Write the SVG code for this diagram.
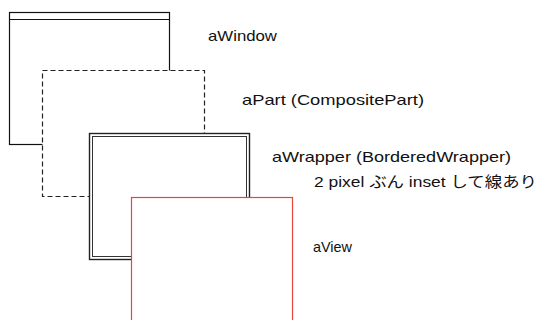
<svg xmlns="http://www.w3.org/2000/svg" width="539" height="320" viewBox="0 0 539 320">
<style>
  .lbl { font-family: "Liberation Sans", "Noto Sans CJK JP", sans-serif; font-size: 15px; fill: #111; }
  .box { fill: #fff; stroke: #111; stroke-width: 1.2; }
</style>
<rect width="539" height="320" fill="#fff"/>
<g id="aWindow">
  <rect class="box" x="9.5" y="12.5" width="160" height="132"/>
  <line x1="9.5" y1="19.5" x2="169.5" y2="19.5" stroke="#111" stroke-width="1.2"/>
  <text class="lbl" x="208" y="41" textLength="69" lengthAdjust="spacingAndGlyphs">aWindow</text>
</g>
<g id="aPart">
  <rect x="42.5" y="70.5" width="162" height="126" fill="#fff" stroke="#222" stroke-width="1.2" stroke-dasharray="5,3"/>
  <text class="lbl" x="242" y="105" textLength="182" lengthAdjust="spacingAndGlyphs">aPart (CompositePart)</text>
</g>
<g id="aWrapper">
  <rect x="89.5" y="133.5" width="160" height="126" fill="#fff" stroke="#222" stroke-width="1.4"/>
  <rect x="92.5" y="136.5" width="154" height="120" fill="#fff" stroke="#333" stroke-width="1"/>
  <text class="lbl" x="272" y="162" textLength="239" lengthAdjust="spacingAndGlyphs">aWrapper (BorderedWrapper)</text>
  <text class="lbl" x="314" y="187" textLength="223" lengthAdjust="spacingAndGlyphs">2 pixel ぶん inset して線あり</text>
</g>
<g id="aView">
  <rect x="131.5" y="197.5" width="161" height="130" fill="#fff" stroke="#e8443c" stroke-width="1.2"/>
  <text class="lbl" x="313" y="252" font-size="15.5" textLength="39" lengthAdjust="spacingAndGlyphs">aView</text>
</g>
<g id="connectors"></g>
</svg>
